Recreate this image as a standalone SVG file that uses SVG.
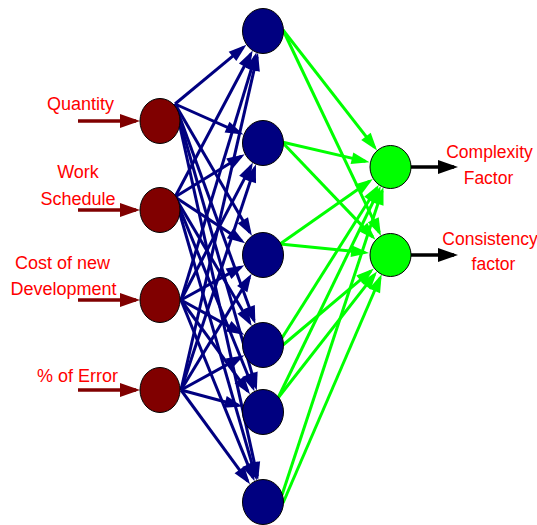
<svg xmlns="http://www.w3.org/2000/svg" width="537" height="525" viewBox="0 0 537 525">
<defs>
<marker id="ahNavy" markerUnits="userSpaceOnUse" markerWidth="18" markerHeight="12" refX="14" refY="6" orient="auto" overflow="visible"><path d="M0,0 L18,6 L0,12 z" fill="#000080"/></marker>
<marker id="ahGreen" markerUnits="userSpaceOnUse" markerWidth="18" markerHeight="12" refX="14" refY="6" orient="auto" overflow="visible"><path d="M0,0 L18,6 L0,12 z" fill="#00ff00"/></marker>
<marker id="ahRed" markerUnits="userSpaceOnUse" markerWidth="20" markerHeight="14" refX="16" refY="7" orient="auto" overflow="visible"><path d="M0,0 L20,7 L0,14 z" fill="#800000"/></marker>
<marker id="ahBlack" markerUnits="userSpaceOnUse" markerWidth="20" markerHeight="14" refX="16" refY="7" orient="auto" overflow="visible"><path d="M0,0 L20,7 L0,14 z" fill="#000000"/></marker>
</defs>
<style>
.navy{stroke:#000080;stroke-width:3;fill:none;marker-end:url(#ahNavy)}
.green{stroke:#00ff00;stroke-width:3;fill:none;marker-end:url(#ahGreen)}
.inArrow{stroke:#800000;stroke-width:3.5;fill:none;marker-end:url(#ahRed)}
.outArrow{stroke:#000000;stroke-width:3.5;fill:none;marker-end:url(#ahBlack)}
.in{fill:#800000;stroke:#000;stroke-width:1}
.hid{fill:#000080;stroke:#000;stroke-width:1}
.out{fill:#00ff00;stroke:#000;stroke-width:1}
.lbl{font-family:"Liberation Sans",Arial,sans-serif;font-size:18px;fill:#ff0000;text-anchor:middle}
.rlbl{font-size:17.5px}
</style>
<rect width="537" height="525" fill="#ffffff"/>
<g id="connectors">
<line class="inArrow" x1="78" y1="121" x2="136" y2="121"/>
<line class="inArrow" x1="78" y1="210" x2="136" y2="210"/>
<line class="inArrow" x1="78" y1="300" x2="136" y2="300"/>
<line class="inArrow" x1="78" y1="390" x2="136" y2="390"/>
<line class="outArrow" x1="411" y1="167" x2="454" y2="167"/>
<line class="outArrow" x1="411" y1="255" x2="454" y2="255"/>
<line class="navy" x1="175" y1="104" x2="243.3" y2="47.4"/>
<line class="navy" x1="175" y1="104" x2="239.8" y2="132.8"/>
<line class="navy" x1="175" y1="104" x2="249.9" y2="232.4"/>
<line class="navy" x1="175" y1="104" x2="254.0" y2="320.3"/>
<line class="navy" x1="175" y1="104" x2="255.7" y2="386.7"/>
<line class="navy" x1="175" y1="104" x2="257.3" y2="476.2"/>
<line class="navy" x1="175" y1="197" x2="250.8" y2="54.0"/>
<line class="navy" x1="175" y1="197" x2="241.3" y2="156.3"/>
<line class="navy" x1="175" y1="197" x2="241.8" y2="241.0"/>
<line class="navy" x1="175" y1="197" x2="249.7" y2="322.6"/>
<line class="navy" x1="175" y1="197" x2="253.0" y2="387.7"/>
<line class="navy" x1="175" y1="197" x2="255.7" y2="476.7"/>
<line class="navy" x1="181" y1="300" x2="255.3" y2="56.2"/>
<line class="navy" x1="181" y1="300" x2="251.0" y2="166.1"/>
<line class="navy" x1="181" y1="300" x2="240.8" y2="267.1"/>
<line class="navy" x1="181" y1="300" x2="240.8" y2="332.9"/>
<line class="navy" x1="181" y1="300" x2="247.7" y2="391.1"/>
<line class="navy" x1="181" y1="300" x2="253.1" y2="477.6"/>
<line class="navy" x1="181" y1="390" x2="257.1" y2="56.7"/>
<line class="navy" x1="181" y1="390" x2="254.7" y2="168.0"/>
<line class="navy" x1="181" y1="390" x2="249.5" y2="277.2"/>
<line class="navy" x1="181" y1="390" x2="240.8" y2="357.1"/>
<line class="navy" x1="181" y1="390" x2="238.7" y2="405.5"/>
<line class="navy" x1="181" y1="390" x2="247.7" y2="481.1"/>
<line class="green" x1="283" y1="30" x2="374.6" y2="147.4"/>
<line class="green" x1="283" y1="30" x2="379.3" y2="232.4"/>
<line class="green" x1="282" y1="142" x2="365.6" y2="161.4"/>
<line class="green" x1="282" y1="142" x2="372.7" y2="236.9"/>
<line class="green" x1="280" y1="244" x2="369.5" y2="181.3"/>
<line class="green" x1="280" y1="244" x2="365.1" y2="252.5"/>
<line class="green" x1="282" y1="338" x2="376.7" y2="188.2"/>
<line class="green" x1="283" y1="345" x2="370.8" y2="271.1"/>
<line class="green" x1="278" y1="398" x2="379.1" y2="189.5"/>
<line class="green" x1="278" y1="398" x2="374.5" y2="274.7"/>
<line class="green" x1="282" y1="495" x2="382.2" y2="190.7"/>
<line class="green" x1="283" y1="503" x2="380.1" y2="278.0"/>
</g>
<g id="in-quantity"><ellipse class="in" cx="160" cy="121" rx="20" ry="22.5"/><text class="lbl" x="80.5" y="110">Quantity</text></g>
<g id="in-work"><ellipse class="in" cx="160" cy="210" rx="20" ry="22.5"/><text class="lbl" x="78" y="178">Work</text><text class="lbl" x="78" y="205">Schedule</text></g>
<g id="in-cost"><ellipse class="in" cx="160" cy="300" rx="20" ry="22.5"/><text class="lbl" x="62.5" y="269">Cost of new</text><text class="lbl" x="63.5" y="295">Development</text></g>
<g id="in-error"><ellipse class="in" cx="160" cy="390" rx="20" ry="22.5"/><text class="lbl" x="77.5" y="382">% of Error</text></g>
<g id="h1"><ellipse class="hid" cx="263" cy="31" rx="20.5" ry="22.5"/></g>
<g id="h2"><ellipse class="hid" cx="263" cy="143" rx="20.5" ry="22.5"/></g>
<g id="h3"><ellipse class="hid" cx="263" cy="255" rx="20.5" ry="22.5"/></g>
<g id="h4"><ellipse class="hid" cx="263" cy="345" rx="20.5" ry="22.5"/></g>
<g id="h5"><ellipse class="hid" cx="263" cy="412" rx="20.5" ry="22.5"/></g>
<g id="h6"><ellipse class="hid" cx="263" cy="502" rx="20.5" ry="22.5"/></g>
<g id="out-complexity"><ellipse class="out" cx="390.5" cy="167" rx="20.5" ry="21.5"/><text class="lbl rlbl" x="489.5" y="158">Complexity</text><text class="lbl rlbl" x="488.5" y="184">Factor</text></g>
<g id="out-consistency"><ellipse class="out" cx="390.5" cy="255" rx="20.5" ry="21.5"/><text class="lbl rlbl" x="490" y="245">Consistency</text><text class="lbl rlbl" x="493.5" y="270">factor</text></g>
</svg>
